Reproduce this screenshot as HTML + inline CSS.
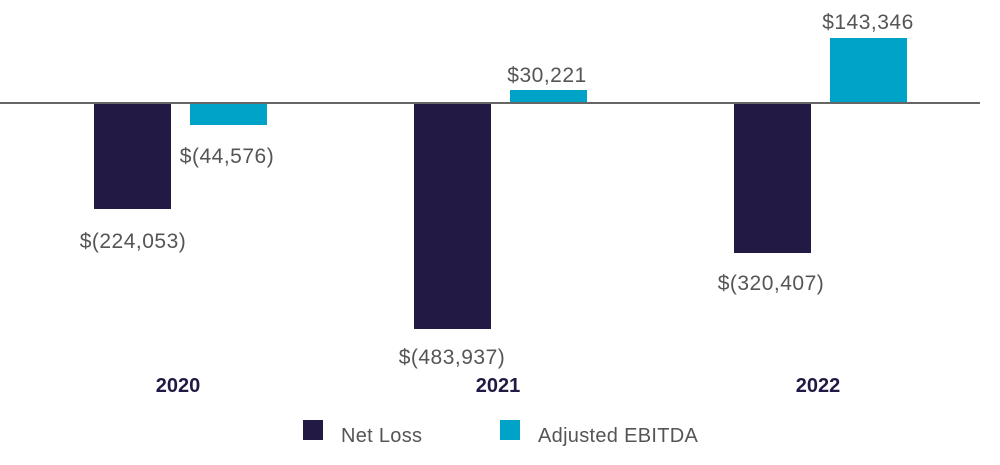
<!DOCTYPE html>
<html><head><style>
body{margin:0;background:#fff;}
svg text{font-family:"Liberation Sans",sans-serif;}
</style></head><body>
<svg width="1000" height="460" xmlns="http://www.w3.org/2000/svg">
<g fill="#221a45">
<rect x="94" y="103" width="77" height="106"/>
<rect x="414" y="103" width="77" height="226"/>
<rect x="734" y="103" width="77" height="150"/>
</g>
<g fill="#00a3c8">
<rect x="190" y="103" width="77" height="22"/>
<rect x="510" y="90" width="77" height="13"/>
<rect x="830" y="38" width="77" height="65"/>
</g>
<line x1="0" y1="103" x2="980" y2="103" stroke="#666" stroke-width="2"/>
<g fill="#555" font-size="21" text-anchor="middle" letter-spacing="0.5">
<text x="133" y="248">$(224,053)</text>
<text x="227" y="163">$(44,576)</text>
<text x="452" y="364">$(483,937)</text>
<text x="547" y="82">$30,221</text>
<text x="771" y="290">$(320,407)</text>
<text x="868" y="29">$143,346</text>
</g>
<g fill="#221a45" font-size="20" font-weight="bold" text-anchor="middle">
<text x="178" y="392">2020</text>
<text x="498" y="392">2021</text>
<text x="818" y="392">2022</text>
</g>
<rect x="303" y="420" width="20" height="20" fill="#221a45"/>
<text x="341" y="442" font-size="20" fill="#555" letter-spacing="0.3">Net Loss</text>
<rect x="500" y="420" width="20" height="20" fill="#00a3c8"/>
<text x="538" y="442" font-size="20" fill="#555" letter-spacing="0.3">Adjusted EBITDA</text>
</svg>
</body></html>
